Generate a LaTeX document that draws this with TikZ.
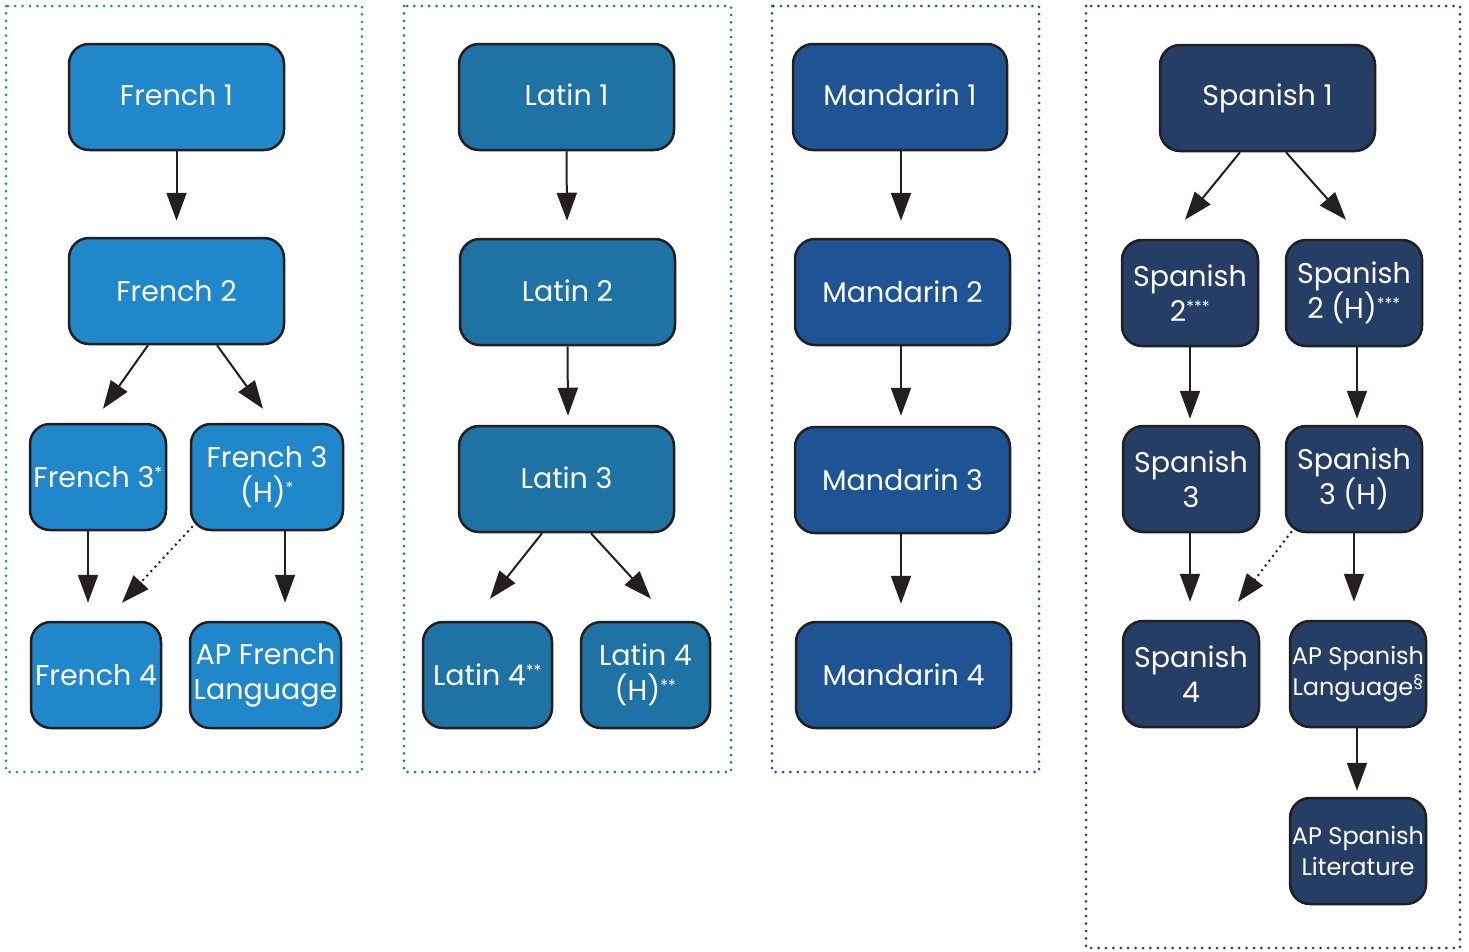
\documentclass[tikz,border=0pt]{standalone}
\usepackage{fontspec}
\setmainfont{Poppins}
\usetikzlibrary{arrows.meta}
\definecolor{frc}{HTML}{2088CA}
\definecolor{lac}{HTML}{1F72A4}
\definecolor{mac}{HTML}{1E5494}
\definecolor{spc}{HTML}{253E66}
\definecolor{edg}{HTML}{231F20}
\tikzset{
  box/.style={draw=edg, line width=2.5pt, rounded corners=20pt, fill=#1, text=white,
    minimum height=106pt, inner sep=0pt, align=center,
    font=\fontsize{28.5}{35}\selectfont},
  frame/.style={draw=#1, line width=3pt, dash pattern=on 0pt off 7.4pt, line cap=round},
  arr/.style={draw=edg, line width=2pt, -{Triangle[length=28pt,width=20pt]}},
  dotarr/.style={draw=edg, line width=2pt, dash pattern=on 2pt off 4pt,
    -{Triangle[length=28pt,width=20pt]}},
  sm/.style={font=\fontsize{24}{31}\selectfont}
}
\newcommand{\sst}[1]{\textsuperscript{\scalebox{0.8}{#1}}}
\newcommand{\up}[1]{\raisebox{4pt}{#1}}
\begin{document}
\begin{tikzpicture}[x=1pt,y=-1pt]
\useasboundingbox (0,0) rectangle (1469,951);
% frames
\path[frame=frc] (6,6) rectangle (362,772);
\path[frame=lac] (404,6) rectangle (731,772);
\path[frame=mac] (772,6) rectangle (1039,772);
\path[frame=spc] (1086,6) rectangle (1460,948);
% French
\node[box=frc, minimum width=215pt] (f1) at (176.5,97) {\up{French 1}};
\node[box=frc, minimum width=215pt] (f2) at (176.5,291) {French 2};
\node[box=frc, minimum width=136pt] (f3a) at (98,477) {French 3\sst{*}};
\node[box=frc, minimum width=152pt] (f3b) at (267,477) {French 3\\(H)\sst{*}};
\node[box=frc, minimum width=130pt] (f4) at (96,675) {French 4};
\node[box=frc, minimum width=151pt] (apf) at (265.5,675) {AP French\\Language};
% Latin
\node[box=lac, minimum width=215pt] (l1) at (566.5,97) {\up{Latin 1}};
\node[box=lac, minimum width=215pt] (l2) at (567.5,292) {\raisebox{3pt}{Latin 2}};
\node[box=lac, minimum width=215pt] (l3) at (566.5,479) {\raisebox{2pt}{Latin 3}};
\node[box=lac, minimum width=129pt] (l4a) at (487.5,675) {Latin 4\sst{**}};
\node[box=lac, minimum width=129pt] (l4b) at (645.5,675) {Latin 4\\(H)\sst{**}};
% Mandarin
\node[box=mac, minimum width=214pt] (m1) at (900,97) {\up{Mandarin 1}};
\node[box=mac, minimum width=215pt] (m2) at (902.5,292) {Mandarin 2};
\node[box=mac, minimum width=215pt] (m3) at (902.5,480) {Mandarin 3};
\node[box=mac, minimum width=215pt] (m4) at (903.5,675) {Mandarin 4};
% Spanish
\node[box=spc, minimum width=215pt] (s1) at (1267.5,98) {\up{Spanish 1}};
\node[box=spc, minimum width=136pt] (s2a) at (1190,293) {Spanish\\2\sst{***}};
\node[box=spc, minimum width=136pt] (s2b) at (1354,293) {Spanish\\2 (H)\sst{***}};
\node[box=spc, minimum width=136pt] (s3a) at (1191,479) {Spanish\\3};
\node[box=spc, minimum width=136pt] (s3b) at (1354,479) {Spanish\\3 (H)};
\node[box=spc, minimum width=136pt] (s4) at (1191,674) {Spanish\\4};
\node[box=spc, sm, minimum width=136pt] (apl) at (1358,674) {AP Spanish\\Language\textsuperscript{§}};
\node[box=spc, sm, minimum width=136pt] (aplit) at (1358,851) {AP Spanish\\Literature};
% French edges
\draw[arr] (f1.south) -- ([yshift=16pt]f2.north);
\draw[arr] ([xshift=-28.5pt]f2.south) -- ([xshift=5pt,yshift=14pt]f3a.north);
\draw[arr] ([xshift=40.5pt]f2.south) -- ([xshift=-4pt,yshift=14pt]f3b.north);
\draw[arr] ([xshift=-10pt]f3a.south) -- ([xshift=-8pt,yshift=18pt]f4.north);
\draw[dotarr] ([xshift=3pt,yshift=5pt]f3b.south west) -- ([xshift=26pt,yshift=18pt]f4.north);
\draw[arr] ([xshift=18pt]f3b.south) -- ([xshift=19.5pt,yshift=18pt]apf.north);
% Latin edges
\draw[arr] (l1.south) -- ([xshift=-0.5pt,yshift=17pt]l2.north);
\draw[arr] (l2.south) -- ([xshift=1.5pt,yshift=9pt]l3.north);
\draw[arr] ([xshift=-24.5pt]l3.south) -- ([xshift=2.5pt,yshift=22pt]l4a.north);
\draw[arr] ([xshift=24.5pt]l3.south) -- ([xshift=5.5pt,yshift=22pt]l4b.north);
% Mandarin edges
\draw[arr] ([xshift=1pt]m1.south) -- ([xshift=-1.5pt,yshift=17pt]m2.north);
\draw[arr] ([xshift=-1.5pt]m2.south) -- ([xshift=-1.5pt,yshift=10pt]m3.north);
\draw[arr] ([xshift=-1.5pt]m3.south) -- ([xshift=-2.5pt,yshift=17pt]m4.north);
% Spanish edges
\draw[arr] ([xshift=-27.5pt]s1.south) -- ([xshift=-5pt,yshift=19pt]s2a.north);
\draw[arr] ([xshift=18.5pt]s1.south) -- ([xshift=-8pt,yshift=19pt]s2b.north);
\draw[arr] (s2a.south) -- ([xshift=-1pt,yshift=6pt]s3a.north);
\draw[arr] ([xshift=3pt]s2b.south) -- ([xshift=3pt,yshift=6pt]s3b.north);
\draw[arr] ([xshift=-1pt]s3a.south) -- ([xshift=-1pt,yshift=18pt]s4.north);
\draw[dotarr] ([xshift=7pt,yshift=2pt]s3b.south west) -- ([xshift=47pt,yshift=18pt]s4.north);
\draw[arr] (s3b.south) -- ([xshift=-4pt,yshift=18pt]apl.north);
\draw[arr] ([xshift=-1pt]apl.south) -- ([xshift=-1pt,yshift=6pt]aplit.north);
\end{tikzpicture}
\end{document}
